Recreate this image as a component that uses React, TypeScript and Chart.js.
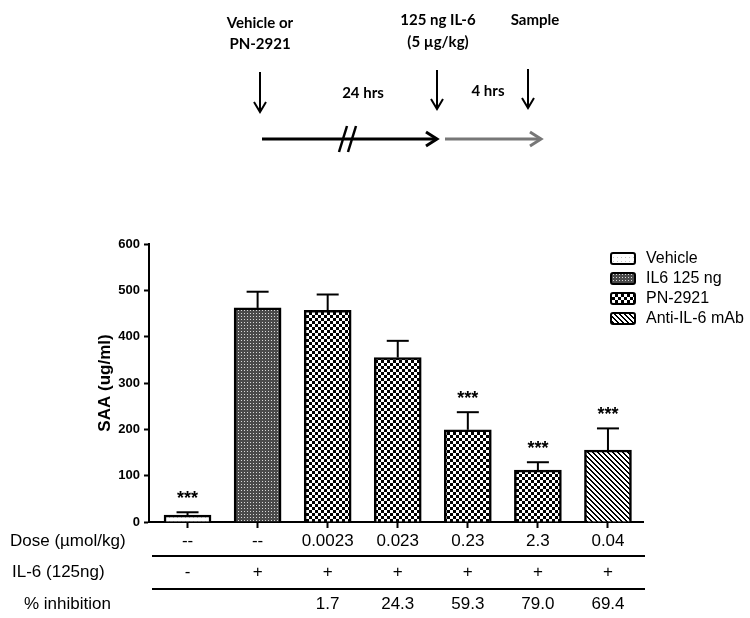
import React, { useEffect, useRef } from "react";
import { Chart, registerables } from "chart.js";

Chart.register(...registerables);

// ---------- data ----------
const groupNames = ["Vehicle", "IL6 125 ng", "PN 0.0023", "PN 0.023", "PN 0.23", "PN 2.3", "Anti-IL-6 mAb"];
const saaMean = [15, 462, 457, 355, 199, 112, 155];
const saaErr = [6, 35, 34, 36, 38, 17, 47];
const significant = [true, false, false, false, true, true, true];
const groupPattern = ["vehicle", "il6", "pn", "pn", "pn", "pn", "mab"];
const legendLabels = ["Vehicle", "IL6 125 ng", "PN-2921", "Anti-IL-6 mAb"];
const legendPattern = ["vehicle", "il6", "pn", "mab"];
const doseLabels = ["--", "--", "0.0023", "0.023", "0.23", "2.3", "0.04"];
const il6Labels = ["-", "+", "+", "+", "+", "+", "+"];
const inhibitionLabels = ["", "", "1.7", "24.3", "59.3", "79.0", "69.4"];
const rowTitles = ["Dose (\u00b5mol/kg)", "IL-6 (125ng)", "% inhibition"];
const yTitle = "SAA (ug/ml)";

const FONT = "'Liberation Sans', Arial, sans-serif";
const SCHEME_FONT = "Lato, 'Open Sans', sans-serif";

function makePattern(ctx: CanvasRenderingContext2D, kind: string): CanvasPattern | string {
  const c = document.createElement("canvas");
  const g = c.getContext("2d")!;
  if (kind === "vehicle") {
    c.width = 4; c.height = 4;
    g.fillStyle = "#ffffff"; g.fillRect(0, 0, 4, 4);
    g.fillStyle = "#c4c4c4"; g.fillRect(1, 1, 1, 1);
  } else if (kind === "il6") {
    c.width = 3; c.height = 3;
    g.fillStyle = "#4a4a4a"; g.fillRect(0, 0, 3, 3);
    g.fillStyle = "#d8d8d8"; g.fillRect(1, 1, 1, 1);
  } else if (kind === "pn") {
    c.width = 6; c.height = 6;
    g.fillStyle = "#000000"; g.fillRect(0, 0, 6, 6);
    g.fillStyle = "#ffffff"; g.fillRect(0, 0, 3, 3); g.fillRect(3, 3, 3, 3);
  } else {
    c.width = 5; c.height = 5;
    g.fillStyle = "#ffffff"; g.fillRect(0, 0, 5, 5);
    g.fillStyle = "#000000";
    for (let x = 0; x < 5; x++) for (let y = 0; y < 5; y++) {
      if ((((x - y) % 5) + 5) % 5 < 2) g.fillRect(x, y, 1, 1);
    }
  }
  return ctx.createPattern(c, "repeat") || "#888";
}

function downArrow(ctx: CanvasRenderingContext2D, x: number, y1: number, y2: number) {
  ctx.beginPath(); ctx.moveTo(x, y1); ctx.lineTo(x, y2); ctx.stroke();
  ctx.beginPath(); ctx.moveTo(x - 6, y2 - 10); ctx.lineTo(x, y2); ctx.lineTo(x + 6, y2 - 10); ctx.stroke();
}

function rightArrow(ctx: CanvasRenderingContext2D, x1: number, x2: number, y: number) {
  ctx.beginPath(); ctx.moveTo(x1, y); ctx.lineTo(x2, y); ctx.stroke();
  ctx.beginPath(); ctx.moveTo(x2 - 11, y - 7); ctx.lineTo(x2, y); ctx.lineTo(x2 - 11, y + 7); ctx.stroke();
}

const overlayPlugin = {
  id: "overlay",
  afterDatasetsDraw(chart: any) {
    const ctx: CanvasRenderingContext2D = chart.ctx;
    const xs = chart.scales.x;
    const ys = chart.scales.y;
    ctx.save();
    ctx.strokeStyle = "#000"; ctx.lineWidth = 2;
    saaMean.forEach((v, i) => {
      const x = xs.getPixelForValue(i);
      const yTop = ys.getPixelForValue(v);
      const yErr = ys.getPixelForValue(v + saaErr[i]);
      ctx.beginPath(); ctx.moveTo(x, yTop); ctx.lineTo(x, yErr); ctx.stroke();
      ctx.beginPath(); ctx.moveTo(x - 11, yErr); ctx.lineTo(x + 11, yErr); ctx.stroke();
      if (significant[i]) {
        ctx.fillStyle = "#000";
        ctx.font = `bold 18px ${FONT}`;
        ctx.textAlign = "center"; ctx.textBaseline = "middle";
        ctx.fillText("***", x, yErr - 13);
      }
    });
    ctx.restore();
  },
  afterDraw(chart: any) {
    const ctx: CanvasRenderingContext2D = chart.ctx;
    const xs = chart.scales.x;
    const area = chart.chartArea;
    ctx.save();
    // ---- schematic ----
    ctx.fillStyle = "#000"; ctx.textAlign = "center"; ctx.textBaseline = "middle";
    ctx.font = `bold 15px ${SCHEME_FONT}`;
    ctx.fillText("Vehicle or", 260, 23);
    ctx.fillText("PN-2921", 260, 44);
    ctx.fillText("125 ng IL-6", 438, 20);
    ctx.fillText("(5 \u00b5g/kg)", 438, 42);
    ctx.fillText("Sample", 535, 20);
    ctx.fillText("24 hrs", 363, 93);
    ctx.fillText("4 hrs", 488, 91);
    ctx.strokeStyle = "#000"; ctx.lineWidth = 2;
    downArrow(ctx, 260, 72, 112);
    downArrow(ctx, 437, 70, 109);
    downArrow(ctx, 528, 69, 108);
    ctx.lineWidth = 3;
    rightArrow(ctx, 262, 437, 139);
    ctx.lineWidth = 2.5;
    ctx.beginPath(); ctx.moveTo(339, 152); ctx.lineTo(347, 126); ctx.stroke();
    ctx.beginPath(); ctx.moveTo(348, 152); ctx.lineTo(356, 126); ctx.stroke();
    ctx.strokeStyle = "#777"; ctx.lineWidth = 3;
    rightArrow(ctx, 445, 541, 139);

    // ---- legend ----
    ctx.textAlign = "left"; ctx.textBaseline = "middle";
    ctx.font = `16px ${FONT}`;
    legendLabels.forEach((lab, i) => {
      const y = 258 + i * 20;
      ctx.fillStyle = makePattern(ctx, legendPattern[i]) as any;
      ctx.beginPath();
      (ctx as any).roundRect(611, y - 5, 24, 11, 2);
      ctx.fill();
      ctx.strokeStyle = "#000"; ctx.lineWidth = 2;
      ctx.stroke();
      ctx.fillStyle = "#000";
      ctx.fillText(lab, 646, y + 1);
    });

    // ---- table ----
    const rowsY = [541, 572, 604];
    const rows = [doseLabels, il6Labels, inhibitionLabels];
    ctx.font = `17px ${FONT}`;
    ctx.fillStyle = "#000";
    rows.forEach((row, r) => {
      ctx.textAlign = "left";
      ctx.fillText(rowTitles[r], r === 2 ? 24 : (r === 1 ? 12 : 10), rowsY[r]);
      ctx.textAlign = "center";
      row.forEach((t, i) => ctx.fillText(t, xs.getPixelForValue(i), rowsY[r]));
    });
    ctx.strokeStyle = "#000"; ctx.lineWidth = 2;
    [556, 589].forEach((y) => {
      ctx.beginPath(); ctx.moveTo(area.left + 3, y); ctx.lineTo(area.right + 2, y); ctx.stroke();
    });
    ctx.restore();
  },
};

export default function App() {
  const ref = useRef<HTMLCanvasElement | null>(null);
  useEffect(() => {
    const canvas = ref.current!;
    const ctx = canvas.getContext("2d")!;
    Chart.defaults.font.family = FONT;
    const chart = new Chart(canvas, {
      type: "bar",
      data: {
        datasets: [
          {
            label: "SAA",
            data: saaMean.map((v, i) => ({ x: i, y: v })),
            backgroundColor: groupPattern.map((k) => makePattern(ctx, k)) as any,
            borderColor: "#000",
            borderWidth: 2.5,
            borderSkipped: "bottom",
            barThickness: 47,
          } as any,
        ],
      },
      options: {
        responsive: false,
        animation: false,
        events: [],
        layout: { padding: { left: 95, top: 244, right: 107, bottom: 86 } },
        plugins: { legend: { display: false }, tooltip: { enabled: false }, title: { display: false } },
        scales: {
          x: {
            type: "linear",
            min: -0.55,
            max: 6.5,
            offset: false,
            z: 1,
            afterBuildTicks: (s: any) => { s.ticks = groupNames.map((_, i) => ({ value: i })); },
            afterFit: (s: any) => { s.height = 10; },
            ticks: { display: false },
            grid: { display: true, offset: false, drawOnChartArea: false, tickLength: 6, tickColor: "#000", tickWidth: 2 },
            border: { color: "#000", width: 2 },
          },
          y: {
            min: 0,
            max: 600,
            afterFit: (s: any) => { s.width = 54; },
            ticks: { stepSize: 100, color: "#000", font: { size: 13, weight: "bold" }, padding: 4 },
            grid: { display: true, drawOnChartArea: false, tickLength: 5, tickColor: "#000", tickWidth: 2 },
            border: { color: "#000", width: 2 },
            title: {
              display: true,
              text: yTitle,
              color: "#000",
              font: { size: 17, weight: "bold" },
              padding: { top: 0, bottom: 0 },
            },
          },
        },
      } as any,
      plugins: [overlayPlugin],
    });
    return () => chart.destroy();
  }, []);
  return (
    <div style={{ position: "fixed", left: 0, top: 0, width: 750, height: 618, background: "#fff" }}>
      <canvas ref={ref} width={750} height={618} style={{ width: 750, height: 618, display: "block" }} />
    </div>
  );
}
